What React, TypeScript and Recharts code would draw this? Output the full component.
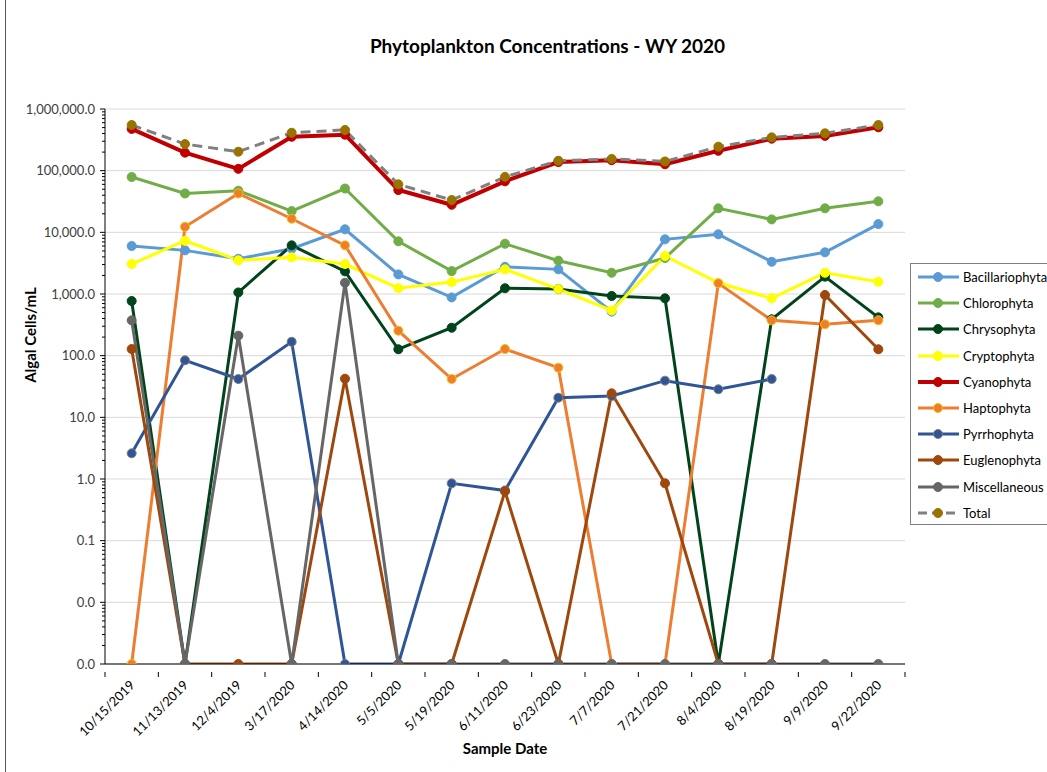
import React from 'react';
import { LineChart, Line, XAxis, YAxis, CartesianGrid } from 'recharts';

const DATES = [
  '10/15/2019', '11/13/2019', '12/4/2019', '3/17/2020', '4/14/2020', '5/5/2020', '5/19/2020',
  '6/11/2020', '6/23/2020', '7/7/2020', '7/21/2020', '8/4/2020', '8/19/2020', '9/9/2020', '9/22/2020',
];

const BACILLARIOPHYTA = [6000, 5100, 3730, 5420, 11200, 2080, 880, 2760, 2510, 517, 7700, 9290, 3330, 4740, 13600];
const CHLOROPHYTA = [78900, 42700, 47300, 22100, 51300, 7140, 2350, 6530, 3470, 2210, 3830, 24500, 16200, 24500, 31800];
const CHRYSOPHYTA = [770, 0, 1060, 6150, 2330, 127, 284, 1240, 1200, 929, 851, 0, 389, 1910, 418];
const CRYPTOPHYTA = [3060, 7310, 3520, 3930, 3060, 1240, 1560, 2510, 1200, 540, 4130, 1520, 850, 2210, 1580];
const CYANOPHYTA = [475000, 196000, 107000, 355000, 383000, 48500, 28000, 67200, 138000, 148000, 127000, 210000, 330000, 366000, 505000];
const HAPTOPHYTA = [0, 12300, 42700, 16600, 6150, 254, 41.8, 128, 63.8, 0, 0, 1490, 374, 322, 374];
const PYRRHOPHYTA = [2.61, 84, 41.8, 168, 0, 0, 0.85, 0.65, 20.8, 22.2, 39.3, 28.5, 41.8, null, null];
const EUGLENOPHYTA = [128, 0, 0, 0, 42.3, 0, 0, 0.63, 0, 24.5, 0.85, 0, 0, 964, 127];
const MISCELLANEOUS = [374, 0, 211, 0, 1520, 0, 0, 0, 0, 0, 0, 0, 0, 0, 0];
const TOTAL = [550000, 270000, 203000, 412000, 457000, 60000, 33400, 79400, 145000, 155000, 141000, 245000, 347000, 403000, 550000];

const MAJOR_TICKS = [0.001, 0.01, 0.1, 1, 10, 100, 1000, 10000, 100000, 1000000];
const MINOR_TICKS = MAJOR_TICKS.slice(0, -1).flatMap((d) => [2, 3, 4, 5, 6, 7, 8, 9].map((m) => d * m));

// zero counts sit on the axis floor (log scale)
const FLOOR = 0.001;

const SERIES = [
  { key: 'Bacillariophyta', values: BACILLARIOPHYTA, color: '#5B9BD5', dot: '#5B9BD5', dotStroke: '#5B9BD5', width: 3 },
  { key: 'Chlorophyta', values: CHLOROPHYTA, color: '#70AD47', dot: '#70AD47', dotStroke: '#70AD47', width: 3 },
  { key: 'Chrysophyta', values: CHRYSOPHYTA, color: '#00441B', dot: '#00441B', dotStroke: '#00441B', width: 3 },
  { key: 'Cryptophyta', values: CRYPTOPHYTA, color: '#FFFF00', dot: '#FFFF00', dotStroke: '#FFFF00', width: 3 },
  { key: 'Cyanophyta', values: CYANOPHYTA, color: '#C00000', dot: '#C00000', dotStroke: '#C00000', width: 4 },
  { key: 'Haptophyta', values: HAPTOPHYTA, color: '#ED7D31', dot: '#ED7D31', dotStroke: '#FFC000', width: 3 },
  { key: 'Pyrrhophyta', values: PYRRHOPHYTA, color: '#2F5597', dot: '#2F5597', dotStroke: '#7F7F7F', width: 3 },
  { key: 'Euglenophyta', values: EUGLENOPHYTA, color: '#9E480E', dot: '#9E480E', dotStroke: '#9E480E', width: 3 },
  { key: 'Miscellaneous', values: MISCELLANEOUS, color: '#666666', dot: '#666666', dotStroke: '#666666', width: 3 },
  { key: 'Total', values: TOTAL, color: '#808080', dot: '#997300', dotStroke: '#997300', width: 3, dashed: true },
];

const data = DATES.map((date, i) => {
  const row: Record<string, string | number | null> = { date };
  SERIES.forEach((s) => {
    const v = s.values[i];
    row[s.key] = v === null ? null : v === 0 ? FLOOR : v;
  });
  return row;
});

const W = 1047;
const H = 772;
const MARGIN = { top: 109, right: 142, bottom: 28, left: 5 };
const Y_AXIS_W = 100;
const X_AXIS_H = 80;
const PLOT_W = W - MARGIN.left - MARGIN.right - Y_AXIS_W;
const BAND = PLOT_W / DATES.length;
const FONT = 'Lato, "Open Sans", sans-serif';

const fmt = new Intl.NumberFormat('en-US', { minimumFractionDigits: 1, maximumFractionDigits: 1 });

const YTick = (props: any) => {
  const { x, y, payload } = props;
  const major = MAJOR_TICKS.includes(payload.value);
  return (
    <g>
      <line x1={x} x2={x - (major ? 5 : 3)} y1={y} y2={y} stroke="#000" strokeWidth={1} />
      {major && (
        <text x={x - 10} y={y} dy={4.5} textAnchor="end" fontSize={13} fill="#404040" fontFamily={FONT}>
          {fmt.format(payload.value)}
        </text>
      )}
    </g>
  );
};

const XTick = (props: any) => {
  const { x, y, payload, index } = props;
  const left = x - BAND / 2;
  return (
    <g>
      <line x1={left} x2={left} y1={y} y2={y + 5} stroke="#000" />
      {index === DATES.length - 1 && <line x1={x + BAND / 2} x2={x + BAND / 2} y1={y} y2={y + 5} stroke="#000" />}
      <text
        x={x + 4}
        y={y + 14}
        textAnchor="end"
        fontSize={13}
        fill="#000"
        fontFamily={FONT}
        transform={`rotate(-45 ${x + 4} ${y + 14})`}
      >
        {payload.value}
      </text>
    </g>
  );
};

const Legend = () => (
  <div
    style={{
      position: 'absolute',
      left: 910,
      top: 263,
      width: 140,
      height: 262,
      border: '1px solid #7f7f7f',
      boxSizing: 'border-box',
      background: '#fff',
      fontFamily: FONT,
      fontSize: 13,
      color: '#000',
    }}
  >
    {SERIES.map((s, i) => (
      <div key={s.key} style={{ position: 'absolute', left: 6, top: 4 + i * 26.2, height: 18, display: 'flex', alignItems: 'center' }}>
        <svg width={46} height={18}>
          <line x1={1} x2={42} y1={9} y2={9} stroke={s.color} strokeWidth={s.width} strokeDasharray={s.dashed ? '9 5' : undefined} />
          <circle cx={21} cy={9} r={4.5} fill={s.dot} stroke={s.dotStroke} strokeWidth={1} />
        </svg>
        <span>{s.key}</span>
      </div>
    ))}
  </div>
);

export default function App() {
  return (
    <div style={{ position: 'absolute', left: 0, top: 0, width: W, height: H, background: '#fff', overflow: 'hidden' }}>
      <div style={{ position: 'absolute', left: 5, top: 0, width: 1, height: H, background: '#595959' }} />
      <div
        style={{
          position: 'absolute',
          left: 0,
          width: W,
          top: 34,
          textAlign: 'center',
          fontFamily: FONT,
          fontWeight: 700,
          fontSize: 19,
          color: '#000',
          paddingLeft: 48,
          boxSizing: 'border-box',
        }}
      >
        Phytoplankton Concentrations - WY 2020
      </div>
      <LineChart width={W} height={H} data={data} margin={MARGIN}>
        <CartesianGrid vertical={false} horizontalValues={MAJOR_TICKS} stroke="#D9D9D9" strokeWidth={1} />
        <XAxis
          dataKey="date"
          height={X_AXIS_H}
          interval={0}
          padding={{ left: BAND / 2, right: BAND / 2 }}
          tickLine={false}
          axisLine={{ stroke: '#000' }}
          tick={<XTick />}
          label={{ value: 'Sample Date', position: 'insideBottom', offset: -10, fontFamily: FONT, fontWeight: 700, fontSize: 15, fill: '#000' }}
        />
        <YAxis
          scale="log"
          domain={[FLOOR, 1000000]}
          allowDataOverflow
          ticks={[...MAJOR_TICKS, ...MINOR_TICKS].sort((a, b) => a - b)}
          interval={0}
          width={Y_AXIS_W}
          tickSize={0}
          tickMargin={0}
          tickLine={false}
          axisLine={{ stroke: '#000' }}
          tick={<YTick />}
        />
        {SERIES.map((s) => (
          <Line
            key={s.key}
            dataKey={s.key}
            type="linear"
            stroke={s.color}
            strokeWidth={s.width}
            strokeDasharray={s.dashed ? '10 6' : undefined}
            dot={{ r: 4.5, fill: s.dot, stroke: s.dotStroke, strokeWidth: 1, strokeDasharray: '' }}
            activeDot={false}
            connectNulls={false}
            isAnimationActive={false}
          />
        ))}
      </LineChart>
      <div
        style={{
          position: 'absolute',
          left: 30,
          top: 335,
          transform: 'translate(-50%, -50%) rotate(-90deg)',
          fontFamily: FONT,
          fontWeight: 700,
          fontSize: 15,
          whiteSpace: 'nowrap',
          color: '#000',
        }}
      >
        Algal Cells/mL
      </div>
      <Legend />
    </div>
  );
}
